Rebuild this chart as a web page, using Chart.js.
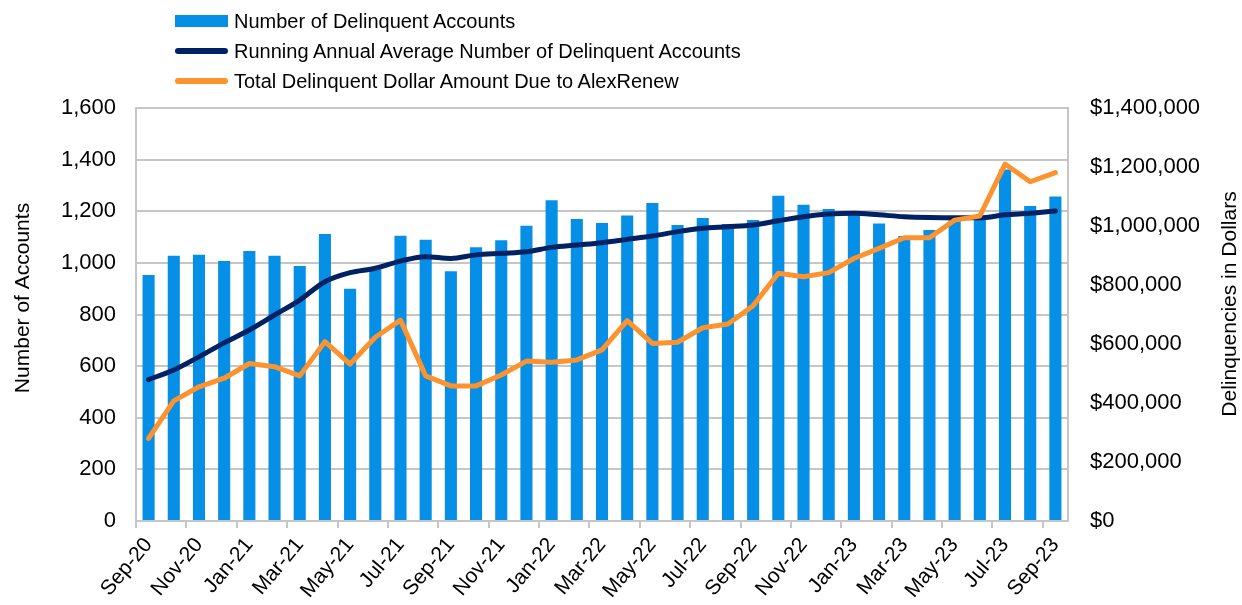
<!DOCTYPE html>
<html>
<head>
<meta charset="utf-8">
<script src="https://cdn.jsdelivr.net/npm/chart.js@4/dist/chart.umd.min.js"></script>
<style>
  body { margin: 0; background: #fff; }
  #wrap { position: relative; width: 1242px; height: 605px; }
  #legend { position: absolute; left: 175px; top: 0; font: 20px "Liberation Sans", Arial, sans-serif; color: #000; }
  .item { position: absolute; left: 0; height: 24px; white-space: nowrap; }
  .item span { position: absolute; left: 59px; top: 0; line-height: 24px; }
  .sw { position: absolute; left: 0; width: 53px; }
</style>
</head>
<body>
<div id="wrap">
  <canvas id="chart"></canvas>
  <div id="legend"></div>
</div>
<script>
const months = ["Sep-20","Oct-20","Nov-20","Dec-20","Jan-21","Feb-21","Mar-21","Apr-21","May-21","Jun-21","Jul-21","Aug-21",
  "Sep-21","Oct-21","Nov-21","Dec-21","Jan-22","Feb-22","Mar-22","Apr-22","May-22","Jun-22","Jul-22","Aug-22",
  "Sep-22","Oct-22","Nov-22","Dec-22","Jan-23","Feb-23","Mar-23","Apr-23","May-23","Jun-23","Jul-23","Aug-23","Sep-23"];

// bars - number of delinquent accounts
const accounts = [953,1028,1031,1007,1046,1028,988,1112,900,975,1105,1090,
  968,1061,1088,1144,1243,1170,1154,1184,1232,1147,1174,1151,
  1166,1260,1225,1209,1192,1153,1104,1127,1170,1175,1362,1220,1257];

// running annual average (left axis)
const runningAvg = [548,585,636,690,740,798,856,927,962,979,1007,1024,
  1017,1031,1037,1043,1060,1069,1078,1091,1104,1121,1134,1140,
  1147,1163,1179,1189,1192,1186,1179,1176,1175,1175,1186,1192,1201];

// total delinquent dollars (right axis)
const dollarsDue = [280000,407000,455000,484000,534000,523000,492000,608000,532000,623000,681000,492000,
  458000,458000,495000,542000,538000,546000,580000,679000,602000,606000,655000,668000,
  730000,840000,828000,842000,890000,924000,960000,960000,1020000,1034000,1210000,1150000,1181000];

const countTicks = [0,200,400,600,800,1000,1200,1400,1600];
const dollarTicks = [0,200000,400000,600000,800000,1000000,1200000,1400000];

const seriesNames = ["Number of Delinquent Accounts",
  "Running Annual Average Number of Delinquent Accounts",
  "Total Delinquent Dollar Amount Due to AlexRenew"];

const BLUE = "#068fe6", NAVY = "#002163", ORANGE = "#fd932f", GRID = "#c6c6c6";

// legend (one item per row)
const legend = document.getElementById("legend");
const legendRows = [
  { top: 9, color: BLUE, h: 12, off: 6, radius: 0 },
  { top: 39, color: NAVY, h: 6, off: 9, radius: 3 },
  { top: 69, color: ORANGE, h: 6, off: 9, radius: 3 },
];
legendRows.forEach((r, i) => {
  const item = document.createElement("div");
  item.className = "item";
  item.style.top = r.top + "px";
  const sw = document.createElement("div");
  sw.className = "sw";
  sw.style.background = r.color;
  sw.style.height = r.h + "px";
  sw.style.top = r.off + "px";
  sw.style.borderRadius = r.radius + "px";
  const txt = document.createElement("span");
  txt.textContent = seriesNames[i];
  item.appendChild(sw);
  item.appendChild(txt);
  legend.appendChild(item);
});

// axis titles, both read bottom-to-top
const axisTitles = {
  id: "axisTitles",
  afterDraw(chart) {
    const { ctx, chartArea } = chart;
    ctx.save();
    ctx.font = '21px "Liberation Sans", Arial, sans-serif';
    ctx.fillStyle = "#000";
    ctx.textAlign = "center";
    ctx.textBaseline = "middle";
    ctx.translate(23, chartArea.top + 190);
    ctx.rotate(-Math.PI / 2);
    ctx.fillText("Number of Accounts", 0, 0);
    ctx.restore();
    ctx.save();
    ctx.font = '21px "Liberation Sans", Arial, sans-serif';
    ctx.fillStyle = "#000";
    ctx.textAlign = "center";
    ctx.textBaseline = "middle";
    ctx.translate(1230, chartArea.top + 196);
    ctx.rotate(-Math.PI / 2);
    ctx.fillText("Delinquencies in Dollars", 0, 0);
    ctx.restore();
  },
};

Chart.defaults.font.family = '"Liberation Sans", Arial, sans-serif';
Chart.defaults.color = "#000";

new Chart(document.getElementById("chart"), {
  type: "bar",
  data: {
    labels: months,
    datasets: [
      {
        label: seriesNames[0],
        data: accounts,
        backgroundColor: BLUE,
        yAxisID: "y",
        order: 3,
        barPercentage: 1,
        categoryPercentage: 0.48,
      },
      {
        type: "line",
        label: seriesNames[1],
        data: runningAvg,
        borderColor: NAVY,
        borderWidth: 5,
        pointRadius: 0,
        cubicInterpolationMode: "monotone",
        borderCapStyle: "round",
        yAxisID: "y",
        order: 2,
      },
      {
        type: "line",
        label: seriesNames[2],
        data: dollarsDue,
        borderColor: ORANGE,
        borderWidth: 5,
        pointRadius: 0,
        tension: 0,
        borderJoinStyle: "round",
        borderCapStyle: "round",
        yAxisID: "y2",
        order: 1,
      },
    ],
  },
  options: {
    responsive: true,
    maintainAspectRatio: false,
    animation: false,
    layout: { padding: { top: 108, left: 0, right: 0, bottom: 0 } },
    plugins: {
      legend: { display: false },
      tooltip: { enabled: false },
    },
    scales: {
      x: {
        offset: true,
        grid: {
          offset: true,
          drawOnChartArea: false,
          tickLength: 7,
          lineWidth: 2,
          color: (c) => (c.index % 2 === 0 ? GRID : "rgba(0,0,0,0)"),
        },
        border: { color: GRID, width: 2 },
        ticks: {
          autoSkip: false,
          minRotation: 50,
          maxRotation: 50,
          padding: 5,
          font: { size: 21 },
          callback: (v, i) => (i % 2 === 0 ? months[i] : ""),
        },
        afterFit: (s) => { s.height = 84; },
      },
      y: {
        position: "left",
        min: 0,
        max: 1600,
        afterBuildTicks: (s) => { s.ticks = countTicks.map((v) => ({ value: v })); },
        grid: { color: GRID, lineWidth: 2, drawTicks: false },
        border: { color: GRID, width: 2 },
        ticks: {
          padding: 20,
          font: { size: 22 },
          callback: (v) => v.toLocaleString("en-US"),
        },
        afterFit: (s) => { s.width = 136; },
      },
      y2: {
        position: "right",
        min: 0,
        max: 1400000,
        afterBuildTicks: (s) => { s.ticks = dollarTicks.map((v) => ({ value: v })); },
        grid: { drawOnChartArea: false, drawTicks: false },
        border: { color: GRID, width: 2 },
        ticks: {
          padding: 22,
          font: { size: 22 },
          callback: (v) => "$" + v.toLocaleString("en-US"),
        },
        afterFit: (s) => { s.width = 174; },
      },
    },
  },
  plugins: [axisTitles],
});
</script>
</body>
</html>
